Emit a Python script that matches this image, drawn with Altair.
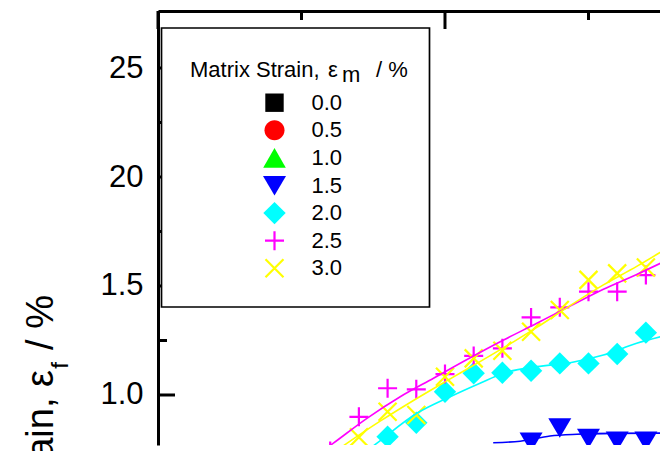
import altair as alt
import pandas as pd

# ---------------------------------------------------------------------------
# Data: fibre strain along the fibre for each matrix strain level
# ---------------------------------------------------------------------------
levels = ["0.0", "0.5", "1.0", "1.5", "2.0", "2.5", "3.0"]

# measured points (position along fibre / mm, fibre strain / %)
pos_15 = [0.65, 0.70, 0.75, 0.80, 0.85]
eps_15 = [0.784, 0.850, 0.801, 0.789, 0.789]

pos_20 = [0.40, 0.45, 0.50, 0.55, 0.60, 0.65, 0.70, 0.75, 0.80, 0.85]
eps_20 = [0.809, 0.873, 1.015, 1.100, 1.102, 1.111, 1.145, 1.145, 1.188, 1.286]

pos_25 = [0.30, 0.35, 0.40, 0.45, 0.50, 0.55, 0.60, 0.65, 0.70, 0.75, 0.80, 0.85]
eps_25 = [0.743, 0.900, 1.031, 1.026, 1.096, 1.179, 1.214, 1.356, 1.402, 1.474, 1.474, 1.550]

pos_30 = [0.35, 0.40, 0.45, 0.50, 0.55, 0.60, 0.65, 0.70, 0.75, 0.80, 0.85]
eps_30 = [0.806, 0.923, 0.908, 1.084, 1.168, 1.203, 1.290, 1.390, 1.528, 1.558, 1.585]

# fitted curves
fit_pos_15 = [0.584, 0.631, 0.683, 0.730, 0.793, 0.880]
fit_eps_15 = [0.781, 0.788, 0.812, 0.820, 0.824, 0.825]

fit_pos_20 = [0.35, 0.381, 0.451, 0.509, 0.561, 0.602, 0.660, 0.718, 0.776, 0.834, 0.880]
fit_eps_20 = [0.717, 0.778, 0.916, 0.992, 1.054, 1.100, 1.130, 1.148, 1.183, 1.237, 1.270]

fit_pos_25 = [0.28, 0.305, 0.364, 0.422, 0.480, 0.540, 0.602, 0.660, 0.718, 0.776, 0.834, 0.880]
fit_eps_25 = [0.730, 0.778, 0.893, 0.992, 1.077, 1.165, 1.252, 1.329, 1.408, 1.485, 1.553, 1.610]

fit_pos_30 = [0.30, 0.329, 0.387, 0.445, 0.503, 0.561, 0.620, 0.660, 0.718, 0.776, 0.834, 0.880]
fit_eps_30 = [0.725, 0.778, 0.880, 0.975, 1.065, 1.153, 1.245, 1.310, 1.410, 1.505, 1.590, 1.662]

# axis ticks
y_major = [1.0, 1.5, 2.0, 2.5]
y_minor = [1.25, 1.75, 2.25]
x_major = [0.0, 0.5]
x_minor = [0.25, 0.75]


def frame(series, xs, ys):
    return pd.DataFrame({"series": series, "x": xs, "y": ys})


points = pd.concat([
    frame("1.5", pos_15, eps_15),
    frame("2.0", pos_20, eps_20),
    frame("2.5", pos_25, eps_25),
    frame("3.0", pos_30, eps_30),
], ignore_index=True)

fits = pd.concat([
    frame("1.5", fit_pos_15, fit_eps_15),
    frame("2.0", fit_pos_20, fit_eps_20),
    frame("2.5", fit_pos_25, fit_eps_25),
    frame("3.0", fit_pos_30, fit_eps_30),
], ignore_index=True)

# ---------------------------------------------------------------------------
# Styling
# ---------------------------------------------------------------------------
FONT = "Liberation Sans"
W, H = 502, 434

line_colors = ["#000000", "#FF0000", "#00FF00", "#0000FF", "#00FFFF", "#FF00FF", "#FFFF00"]
fill_colors = ["#000000", "#FF0000", "#00FF00", "#0000FF", "#00FFFF", "transparent", "transparent"]
stroke_colors = ["transparent"] * 5 + ["#FF00FF", "#FFFF00"]
marker_paths = [
    "M-0.92,-0.92H0.92V0.92H-0.92Z",                      # square
    "M1,0A1,1,0,1,1,-1,0A1,1,0,1,1,1,0Z",                 # circle
    "M0,-0.98L1.13,0.98L-1.13,0.98Z",                     # triangle up
    "M0,1.0L1.15,-0.95L-1.15,-0.95Z",                     # triangle down
    "M0,-1.12L1.12,0L0,1.12L-1.12,0Z",                    # diamond
    "M-0.95,0H0.95M0,-0.95V0.95",                         # plus
    "M-0.9,-0.9L0.9,0.9M-0.9,0.9L0.9,-0.9",               # cross
]

x_scale = alt.Scale(domain=[0, 0.8746], nice=False, zero=False)
y_scale = alt.Scale(domain=[0.7706, 2.7615], nice=False, zero=False)

x_axis = alt.Axis(orient="top", labels=False, ticks=False, grid=False,
                  domainWidth=3, domainColor="black", title=None)
y_axis = alt.Axis(orient="left", values=y_major, ticks=False, tickSize=0, grid=False,
                  domainWidth=3, domainColor="black", title=None,
                  labelFont=FONT, labelFontSize=31, labelColor="black", labelPadding=15,
                  labelExpr="datum.value >= 2 ? format(datum.value * 10, 'd') : format(datum.value, '.1f')")


def X(field="x"):
    return alt.X(f"{field}:Q", scale=x_scale, axis=x_axis)


def Y(field="y"):
    return alt.Y(f"{field}:Q", scale=y_scale, axis=y_axis)


fill_enc = alt.Fill("series:N", scale=alt.Scale(domain=levels, range=fill_colors), legend=None)
stroke_enc = alt.Stroke("series:N", scale=alt.Scale(domain=levels, range=stroke_colors), legend=None)
shape_enc = alt.Shape("series:N", scale=alt.Scale(domain=levels, range=marker_paths), legend=None)

# ---------------------------------------------------------------------------
# Plot layers
# ---------------------------------------------------------------------------
y_tick_major = alt.Chart(pd.DataFrame({"y": y_major})).mark_rule(
    color="black", strokeWidth=3).encode(y=Y(), x=alt.value(0), x2=alt.value(17))
y_tick_minor = alt.Chart(pd.DataFrame({"y": y_minor})).mark_rule(
    color="black", strokeWidth=3).encode(y=Y(), x=alt.value(0), x2=alt.value(9))
x_tick_major = alt.Chart(pd.DataFrame({"x": x_major})).mark_rule(
    color="black", strokeWidth=3).encode(x=X(), y=alt.value(0), y2=alt.value(18))
x_tick_minor = alt.Chart(pd.DataFrame({"x": x_minor})).mark_rule(
    color="black", strokeWidth=3).encode(x=X(), y=alt.value(0), y2=alt.value(9))

markers = alt.Chart(points).mark_point(
    filled=True, opacity=1, size=400, strokeWidth=2.2, clip=True).encode(
    x=X(), y=Y(), fill=fill_enc, stroke=stroke_enc, shape=shape_enc)

curves = alt.Chart(fits).mark_line(strokeWidth=1.6, interpolate="monotone", clip=True).encode(
    x=X(), y=Y(),
    color=alt.Color("series:N", scale=alt.Scale(domain=levels, range=line_colors), legend=None),
    detail="series:N")

plot = alt.layer(y_tick_major, y_tick_minor, x_tick_major, x_tick_minor, markers, curves)

# ---------------------------------------------------------------------------
# Legend (box, title, symbols, labels)
# ---------------------------------------------------------------------------
one = pd.DataFrame({"k": [0]})
legend_rows = pd.DataFrame({"series": levels})
row_y = alt.Y("series:N", scale=alt.Scale(domain=levels, range=[91.7, 257.3], padding=0), axis=None)

legend_box = alt.Chart(one).mark_rect(fill="white", stroke="black", strokeWidth=1.7).encode(
    x=alt.value(3.5), x2=alt.value(271.5), y=alt.value(17), y2=alt.value(296))

legend_symbols = alt.Chart(legend_rows).mark_point(
    filled=True, opacity=1, size=400, strokeWidth=2.2).encode(
    x=alt.value(116.5), y=row_y, fill=fill_enc, stroke=stroke_enc, shape=shape_enc)

legend_labels = alt.Chart(legend_rows).mark_text(
    align="left", baseline="middle", font=FONT, fontSize=22, color="black").encode(
    x=alt.value(153.5), y=row_y, text="series:N")


def label(text, x, y, size, angle=0, align="left"):
    mark = dict(text=text, font=FONT, fontSize=size, color="black",
                align=align, baseline="alphabetic")
    if angle:
        mark["angle"] = angle
    return alt.Chart(one).mark_text(**mark).encode(x=alt.value(x), y=alt.value(y))


legend_title = [
    label("Matrix Strain,", 32, 65.7, 22),
    label("ε", 170, 65.7, 22),
    label("m", 184, 70.7, 22),
    label("/ %", 218, 65.7, 22),
]

# rotated y-axis title: Fibre Strain, ε_f / %
y_title = [
    label("Fibre Strain, ε", -105, 359, 38, angle=270, align="right"),
    label("f", -90, 351, 24, angle=270, align="right"),
    label(" / %", -105, 284, 38, angle=270, align="right"),
]

chart = alt.layer(
    plot, legend_box, legend_symbols, legend_labels, *legend_title, *y_title
).resolve_scale(
    y="independent"
).properties(
    width=W, height=H,
    padding={"left": 158, "top": 11, "right": 0, "bottom": 6},
    autosize=alt.AutoSizeParams(type="none"),
).configure_view(stroke=None)

chart.save("out.html", embed_options={"renderer": "svg", "actions": False})
